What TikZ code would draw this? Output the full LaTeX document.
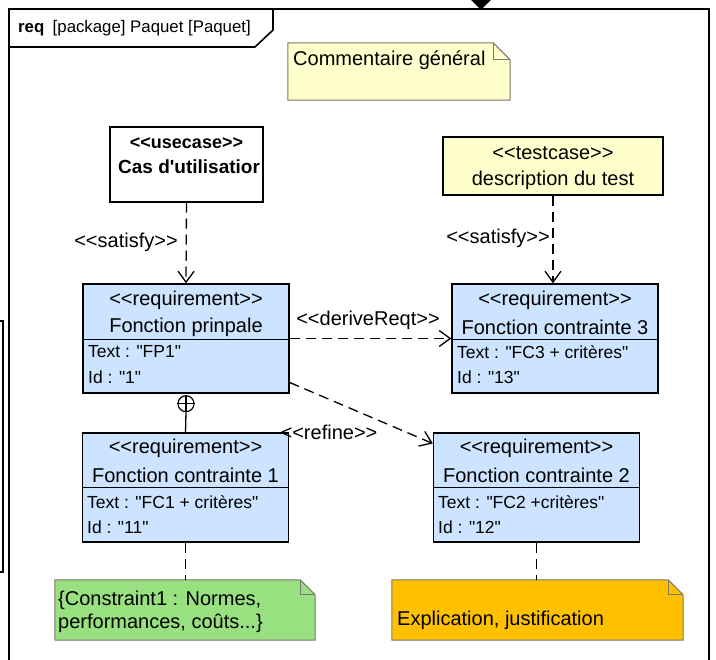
\documentclass[tikz,border=0pt]{standalone}
\usepackage{fontspec}
\setmainfont{Liberation Sans}[Ligatures=TeXOff]
\usetikzlibrary{arrows.meta}

\definecolor{reqblue}{RGB}{204,228,255}
\definecolor{noteyellow}{RGB}{255,255,204}
\definecolor{notegreen}{RGB}{153,224,128}
\definecolor{noteorange}{RGB}{255,192,0}
\definecolor{noteline}{RGB}{120,120,110}

\tikzset{
    req/.style={draw, line width=1.4pt, fill=reqblue, minimum width=206pt, minimum height=109pt, inner sep=0pt},
    sep/.style={line width=1pt},
    big/.style={font=\fontsize{20}{24}\selectfont, inner sep=0pt},
    attr/.style={font=\fontsize{17.5}{21}\selectfont, anchor=west, inner sep=0pt},
    dep/.style={line width=1.3pt, dash pattern=on 10pt off 6pt, -{Straight Barb[length=11pt,width=16pt,line width=1.3pt]}},
    trace/.style={line width=1.3pt, dash pattern=on 10pt off 6pt},
    notebox/.style={inner sep=0pt},
    notefill/.style={draw=noteline, line width=1pt}
}

\begin{document}
\begin{tikzpicture}[x=1pt, y=-1pt]
    \useasboundingbox (0,0) rectangle (716,660);

    % frame and header tab
    \draw[line width=2pt] (9,660) -- (9,9) -- (709,9) -- (709,660);
    \draw[line width=1.6pt] (9,47) -- (255,47) -- (273,30) -- (273,9);
    \node[font=\fontsize{16.8}{20}\selectfont, anchor=west, inner sep=0pt] (title) at (18,28)
        {\textbf{req}\enspace[package] Paquet [Paquet]};
    \fill (471,0) -- (491,0) -- (481,10) -- cycle;
    \draw[line width=1.4pt] (0,321) -- (3,321) -- (3,572) -- (0,572);

    % general comment
    \node[notebox, minimum width=222pt, minimum height=57pt] (com) at (399,71.5) {};
    \draw[notefill, fill=noteyellow] (com.south west) -- (com.north west) -- ([xshift=-17pt]com.north east)
        -- ([yshift=-17pt]com.north east) -- (com.south east) -- cycle;
    \draw[notefill] ([xshift=-17pt]com.north east) -- ([xshift=-17pt, yshift=-17pt]com.north east)
        -- ([yshift=-17pt]com.north east);
    \node[big, anchor=west] (comtx) at (293,60) {Commentaire général};

    % use case and test case
    \node[draw, line width=1.4pt, fill=white, minimum width=153pt, minimum height=75pt] (uc) at (186.5,164.5) {};
    \node[font=\bfseries\fontsize{18}{22}\selectfont, inner sep=0pt] (ucst) at (186.5,143) {<<usecase>>};
    \node[font=\bfseries\fontsize{19}{22}\selectfont, inner sep=0pt, anchor=west] (ucnm) at (118,167) {Cas d'utilisatior};

    \node[draw, line width=1.4pt, fill=noteyellow, minimum width=220pt, minimum height=58pt] (tc) at (553,166) {};
    \node[big] (tcst) at (553,153) {<<testcase>>};
    \node[big] (tcnm) at (553,180) {description du test};

    % requirements
    \node[req] (fp) at (186,338.5) {};
    \draw[sep] ([yshift=-56pt]fp.north west) -- ([yshift=-56pt]fp.north east);
    \node[big] (fpst) at (186,300) {<<requirement>>};
    \node[big] (fpnm) at (186,327) {Fonction prinpale};
    \node[attr] (fptx) at (88,352) {Text : "FP1"};
    \node[attr] (fpid) at (88,377) {Id : "1"};

    \node[req] (fc3) at (555,338.5) {};
    \draw[sep] ([yshift=-56pt]fc3.north west) -- ([yshift=-56pt]fc3.north east);
    \node[big] (fc3st) at (555,300) {<<requirement>>};
    \node[big] (fc3nm) at (555,327) {Fonction contrainte 3};
    \node[attr] (fc3tx) at (457,352) {Text : "FC3 + critères"};
    \node[attr] (fc3id) at (457,377) {Id : "13"};

    \node[req] (fc1) at (185.5,487.5) {};
    \draw[sep] ([yshift=-55pt]fc1.north west) -- ([yshift=-55pt]fc1.north east);
    \node[big] (fc1st) at (185.5,448) {<<requirement>>};
    \node[big] (fc1nm) at (185.5,475) {Fonction contrainte 1};
    \node[attr] (fc1tx) at (87,502) {Text : "FC1 + critères"};
    \node[attr] (fc1id) at (87,527) {Id : "11"};

    \node[req] (fc2) at (536.5,487.5) {};
    \draw[sep] ([yshift=-55pt]fc2.north west) -- ([yshift=-55pt]fc2.north east);
    \node[big] (fc2st) at (536.5,448) {<<requirement>>};
    \node[big] (fc2nm) at (536.5,475) {Fonction contrainte 2};
    \node[attr] (fc2tx) at (438,502) {Text : "FC2 +critères"};
    \node[attr] (fc2id) at (438,527) {Id : "12"};

    % notes under the requirements
    \node[notebox, minimum width=260pt, minimum height=60pt] (cnote) at (185,610) {};
    \draw[notefill, fill=notegreen] (cnote.south west) -- (cnote.north west) -- ([xshift=-15pt]cnote.north east)
        -- ([yshift=-15pt]cnote.north east) -- (cnote.south east) -- cycle;
    \draw[notefill] ([xshift=-15pt]cnote.north east) -- ([xshift=-15pt, yshift=-15pt]cnote.north east)
        -- ([yshift=-15pt]cnote.north east);
    \node[big, anchor=west] (cnote1) at (58,600) {\{Constraint1 : Normes,};
    \node[big, anchor=west] (cnote2) at (58,623) {performances, coûts...\}};

    \node[notebox, minimum width=291pt, minimum height=60pt] (jnote) at (537.5,610) {};
    \draw[notefill, fill=noteorange] (jnote.south west) -- (jnote.north west) -- ([xshift=-15pt]jnote.north east)
        -- ([yshift=-15pt]jnote.north east) -- (jnote.south east) -- cycle;
    \draw[notefill] ([xshift=-15pt]jnote.north east) -- ([xshift=-15pt, yshift=-15pt]jnote.north east)
        -- ([yshift=-15pt]jnote.north east);
    \node[big, anchor=west] (jnote1) at (397,620) {Explication, justification};

    % relations
    \draw[dep] (uc.south) -- (fp.north);
    \node[big] (sat1) at (126,242) {<<satisfy>>};
    \draw[dep] (tc.south) -- (tc.south |- fc3.north);
    \node[big] (sat2) at (498,238) {<<satisfy>>};
    \draw[dep] (fp.east) -- (fc3.west);
    \node[big] (der) at (368,320) {<<deriveReqt>>};
    \draw[dep] ([yshift=-44pt]fp.east) -- ([yshift=44pt]fc2.west);
    \node[big] (ref) at (329,432) {<<refine>>};

    % containment
    \node[circle, draw, line width=1.2pt, minimum size=16pt, inner sep=0pt] (own) at ([yshift=-10pt]fp.south) {};
    \draw[line width=1.2pt] (own.north) -- (own.south) (own.west) -- (own.east);
    \draw[line width=1.3pt] (own.south) -- (fc1.north);

    \draw[trace] (fc1.south) -- (fc1.south |- cnote.north);
    \draw[trace] (fc2.south) -- (fc2.south |- jnote.north);
\end{tikzpicture}
\end{document}
